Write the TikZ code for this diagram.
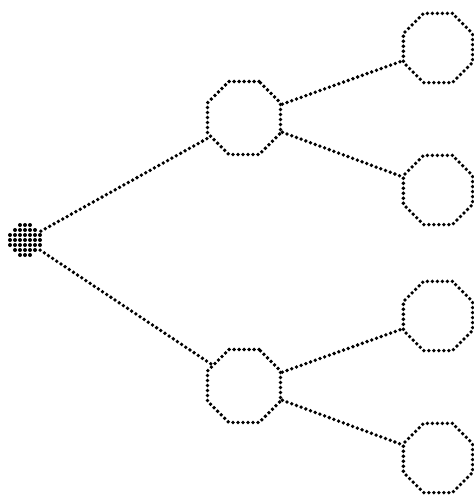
\documentclass[tikz,border=0pt]{standalone}
\usetikzlibrary{shapes.geometric}
\begin{document}
\begin{tikzpicture}[x=1pt,y=-1pt,
  dotline/.style={line width=3.8pt, line cap=round, dash pattern=on 0pt off 5pt},
  oct/.style={regular polygon, regular polygon sides=8, inner sep=0pt, outer sep=0pt, draw=black, dotline, minimum size=#1},
  oct/.default=78pt,
  link/.style={dotline, shorten <=2pt, shorten >=2pt}]
\useasboundingbox (0,0) rectangle (474,496);
% root
\node[circle, minimum size=32pt, inner sep=0pt] (root) at (25,240) {};
\foreach \i in {-3,...,3}{
  \foreach \j in {-3,...,3}{
    \pgfmathtruncatemacro{\d}{\i*\i+\j*\j}
    \ifnum\d<11
      \fill (25+\i*5,240+\j*5) circle (2pt);
    \fi
  }
}
% middle nodes
\node[oct=79pt] (m1) at (244,118) {};
\node[oct=79pt] (m2) at (244,386) {};
% leaves
\node[oct=75pt] (l1) at (438,48) {};
\node[oct=75pt] (l2) at (438,190) {};
\node[oct=75pt] (l3) at (438,316) {};
\node[oct=75pt] (l4) at (438,458) {};
% connectors
\draw[link] (root) -- (m1);
\draw[link] (root) -- (m2);
\draw[link] (m1) -- (l1);
\draw[link] (m1) -- (l2);
\draw[link] (m2) -- (l3);
\draw[link] (m2) -- (l4);
\end{tikzpicture}
\end{document}
